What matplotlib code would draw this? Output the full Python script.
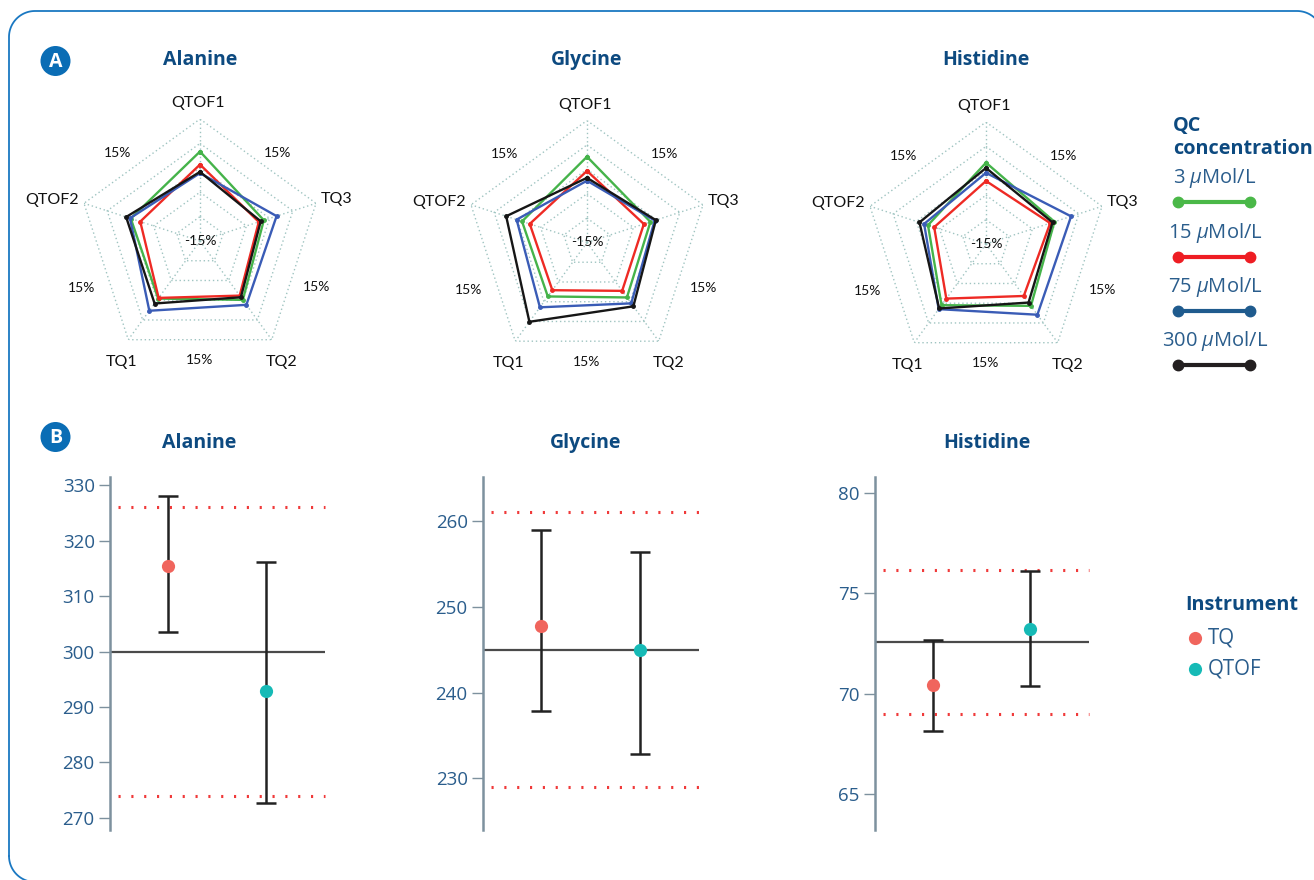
import numpy as np
import matplotlib
matplotlib.use("Agg")
import matplotlib.pyplot as plt
from matplotlib.patches import Circle

plt.rcParams['font.family'] = ['Open Sans', 'DejaVu Sans']
plt.rcParams['mathtext.fontset'] = 'custom'
plt.rcParams['mathtext.rm'] = 'Open Sans'
plt.rcParams['mathtext.it'] = 'Open Sans:italic'

# ---------------- data ----------------
compounds = ['Alanine', 'Glycine', 'Histidine']
radar_axes = ['QTOF1', 'TQ3', 'TQ2', 'TQ1', 'QTOF2']          # clockwise from top
concentrations = ['3', '15', '75', '300']

# % deviation per instrument, per concentration
alanine_3 = [7.0, 1.5, 2.9, 2.5, 2.9]
alanine_15 = [3.8, 0.2, 1.6, 2.3, 0.45]
alanine_75 = [1.7, 4.8, 4.4, 6.2, 3.1]
alanine_300 = [2.0, 0.7, 2.1, 4.0, 4.1]

glycine_3 = [6.1, 1.4, 1.7, 1.4, 1.8]
glycine_15 = [2.6, -0.3, -0.3, -0.5, -0.2]
glycine_75 = [0.2, 2.5, 3.5, 4.7, 3.2]
glycine_300 = [0.9, 2.8, 4.4, 9.1, 5.9]

histidine_3 = [5.0, 2.7, 3.8, 3.6, 0.0]
histidine_15 = [0.5, 1.6, 0.8, 1.6, -1.6]
histidine_75 = [2.5, 7.0, 6.5, 4.8, 1.0]
histidine_300 = [3.7, 2.2, 2.8, 4.6, 2.2]

radar_min, radar_max = -15, 15

# Panel B: mean and error bars per instrument
instruments = ['TQ', 'QTOF']
alanine_mean = [315.4, 292.8]
alanine_low = [303.6, 272.7]
alanine_high = [328.0, 316.1]
alanine_target = 300
alanine_limits = [274, 326]

glycine_mean = [247.7, 244.9]
glycine_low = [237.8, 232.9]
glycine_high = [258.9, 256.4]
glycine_target = 245
glycine_limits = [229, 261]

histidine_mean = [70.42, 73.21]
histidine_low = [68.16, 70.37]
histidine_high = [72.69, 76.11]
histidine_target = 72.56
histidine_limits = [68.96, 76.16]

alanine_ticks = [270, 280, 290, 300, 310, 320, 330]
glycine_ticks = [230, 240, 250, 260]
histidine_ticks = [65, 70, 75, 80]

# ---------------- styles ----------------
W, H = 1314, 880
fig = plt.figure(figsize=(W / 100, H / 100), dpi=100)

DARK_BLUE = '#0d4a80'
STEEL = '#2a5d8c'
radar_colors = ['#45b34a', '#ee2a24', '#3a5cb6', '#161616']
legend_colors = ['#4ab848', '#ee1d23', '#1f5b8e', '#231f20']
inst_colors = ['#f0655d', '#16bab6']
GRID_C = '#9fc4c1'

def px_axes(cx, cy, hw, hh):
    return [(cx - hw) / W, 1 - (cy + hh) / H, 2 * hw / W, 2 * hh / H]

radar_data = [
    [alanine_3, alanine_15, alanine_75, alanine_300],
    [glycine_3, glycine_15, glycine_75, glycine_300],
    [histidine_3, histidine_15, histidine_75, histidine_300],
]
radar_centers = [(200, 241), (587, 242.5), (986, 244)]
R = 122

theta = np.linspace(0, 2 * np.pi, len(radar_axes), endpoint=False)
theta_c = np.append(theta, theta[0])

lab_font = ['Lato', 'DejaVu Sans']

for data, (cx, cy) in zip(radar_data, radar_centers):
    ax = fig.add_axes(px_axes(cx, cy, R, R), projection='polar')
    ax.set_theta_zero_location('N')
    ax.set_theta_direction(-1)
    ax.set_ylim(radar_min, radar_max)
    ax.grid(False)
    ax.spines['polar'].set_visible(False)
    ax.set_xticks([])
    ax.set_yticks([])
    ax.patch.set_alpha(0)
    # pentagon grid
    for lev in np.linspace(radar_min, radar_max, 6)[1:]:
        ax.plot(theta_c, [lev] * len(theta_c), color=GRID_C, lw=1.0,
                ls=(0, (1, 2)), zorder=1)
    for t in theta:
        ax.plot([t, t], [radar_min, radar_max], color=GRID_C, lw=1.0,
                ls=(0, (1, 2)), zorder=1)
    for vals, col in zip(data, radar_colors):
        v = np.append(vals, vals[0])
        ax.plot(theta_c, v, color=col, lw=1.7, marker='o', ms=2.5, zorder=3)
    # axis labels
    offs = [((-2, 16), 'center'), ((5, 4), 'left'), ((10, -22), 'center'),
            ((-7, -22), 'center'), ((-5, 3), 'right')]
    for t, lab, (off, ha) in zip(theta, radar_axes, offs):
        ax.annotate(lab, xy=(t, radar_max), xytext=off, textcoords='offset pixels',
                    ha=ha, va='center', fontsize=11.5, color='#111111',
                    family=lab_font, annotation_clip=False)
    # percentage labels
    pct_offs = [(78, 88), (117, -46), (0, -119), (-118, -47), (-82, 88)]
    for off in pct_offs:
        ax.annotate('15%', xy=(0, radar_min), xytext=off, textcoords='offset pixels',
                    ha='center', va='center', fontsize=10, color='#111111',
                    family=lab_font, annotation_clip=False)
    ax.annotate('-15%', xy=(0, radar_min), xytext=(0, 0), textcoords='offset pixels',
                ha='center', va='center', fontsize=10, color='#111111',
                family=lab_font, annotation_clip=False)

# ---------------- panel B ----------------
b_means = [alanine_mean, glycine_mean, histidine_mean]
b_low = [alanine_low, glycine_low, histidine_low]
b_high = [alanine_high, glycine_high, histidine_high]
b_target = [alanine_target, glycine_target, histidine_target]
b_limits = [alanine_limits, glycine_limits, histidine_limits]
b_ticks = [alanine_ticks, glycine_ticks, histidine_ticks]
b_ylim = [(267.8, 331.5), (224.0, 265.1), (63.2, 80.8)]
b_xpix = [(110, 325), (483, 699), (875, 1089)]
B_TOP, B_BOT = 477, 830

for i in range(3):
    x0, x1 = b_xpix[i]
    ax = fig.add_axes([x0 / W, 1 - B_BOT / H, (x1 - x0) / W, (B_BOT - B_TOP) / H])
    ax.patch.set_alpha(0)
    xs = np.arange(1, len(instruments) + 1)
    ax.set_xlim(0.41, 2.6)
    ax.set_ylim(*b_ylim[i])
    for s in ['top', 'right', 'bottom']:
        ax.spines[s].set_visible(False)
    ax.spines['left'].set_color('#7d919e')
    ax.spines['left'].set_linewidth(1.8)
    ax.set_xticks([])
    ax.set_yticks(b_ticks[i])
    ax.tick_params(axis='y', colors='#7d919e', length=8, width=1.0,
                   labelsize=13.5, labelcolor=STEEL, pad=3)
    ax.axhline(b_target[i], color='#4a4a4a', lw=1.6, zorder=1)
    for lim in b_limits[i]:
        ax.plot([0.49, 2.6], [lim, lim], color='#f03a3a', lw=2.2,
                ls=(0, (0.7, 3.5)), zorder=1, clip_on=False)
    m = np.array(b_means[i])
    lo = m - np.array(b_low[i])
    hi = np.array(b_high[i]) - m
    ax.errorbar(xs, m, yerr=[lo, hi], fmt='none', ecolor='#222222', elinewidth=1.8,
                capsize=7, capthick=1.8, zorder=2)
    for x, y, c in zip(xs, m, inst_colors):
        ax.plot([x], [y], 'o', color=c, ms=9.5, mec='none', zorder=3)

# ---------------- overlay: titles, badges, legends, border ----------------
ov = fig.add_axes([0, 0, 1, 1])
ov.set_xlim(0, W)
ov.set_ylim(H, 0)
ov.axis('off')
ov.patch.set_alpha(0)

# rounded border (pixel coordinates), right and bottom edges run off the page
rr = 26
left, top, right, bottom = 9, 11, 1323, 882
a = np.linspace(0, np.pi / 2, 30)
bx = np.concatenate([
    [left], left + rr - rr * np.cos(a),
    right - rr + rr * np.sin(a),
    [right, right],
])
by = np.concatenate([
    [bottom - rr], top + rr - rr * np.sin(a),
    top + rr - rr * np.cos(a),
    [top + rr, bottom + 10],
])
ov.plot(bx, by, color='#1a78c2', lw=1.3, clip_on=False)
ov.plot(left + rr - rr * np.cos(a), bottom - rr + rr * np.sin(a),
        color='#1a78c2', lw=1.3, clip_on=False)

for (cx, cy), name in zip(radar_centers, compounds):
    ov.text(cx, 60, name, ha='center', va='center', fontsize=14,
            fontweight='bold', color=DARK_BLUE)
for name, cx in zip(compounds, [199, 586, 987]):
    ov.text(cx, 443, name, ha='center', va='center', fontsize=14,
            fontweight='bold', color=DARK_BLUE)

for (cbx, cby), letter in [((55.5, 61), 'A'), ((55.5, 437), 'B')]:
    ov.add_patch(Circle((cbx, cby), 15, fc='#0a6db5', ec='none'))
    ov.text(cbx, cby + 1, letter, ha='center', va='center', fontsize=14,
            fontweight='bold', color='white')

# QC concentration legend
ov.text(1173, 126, 'QC', ha='left', va='center', fontsize=14.3,
        fontweight='bold', color=DARK_BLUE)
ov.text(1173, 149, 'concentration', ha='left', va='center', fontsize=14.3,
        fontweight='bold', color=DARK_BLUE)
leg_y = [178, 233, 287, 341]
for conc, col, y in zip(concentrations, legend_colors, leg_y):
    ov.text(1215, y, conc + r' $\mu$Mol/L', ha='center', va='center',
            fontsize=14.5, color=STEEL)
    ov.plot([1178, 1250], [y + 24, y + 24], color=col, lw=3, marker='o',
            ms=7.5, solid_capstyle='round')

# Instrument legend
ov.text(1185, 605, 'Instrument', ha='left', va='center', fontsize=14.3,
        fontweight='bold', color=DARK_BLUE)
for inst, col, y in zip(instruments, inst_colors, [638, 669]):
    ov.plot([1195], [y], 'o', color=col, ms=9.5, mec='none')
    ov.text(1208, y, inst, ha='left', va='center', fontsize=14.8, color=STEEL)

fig.savefig('out.png', dpi=100)
